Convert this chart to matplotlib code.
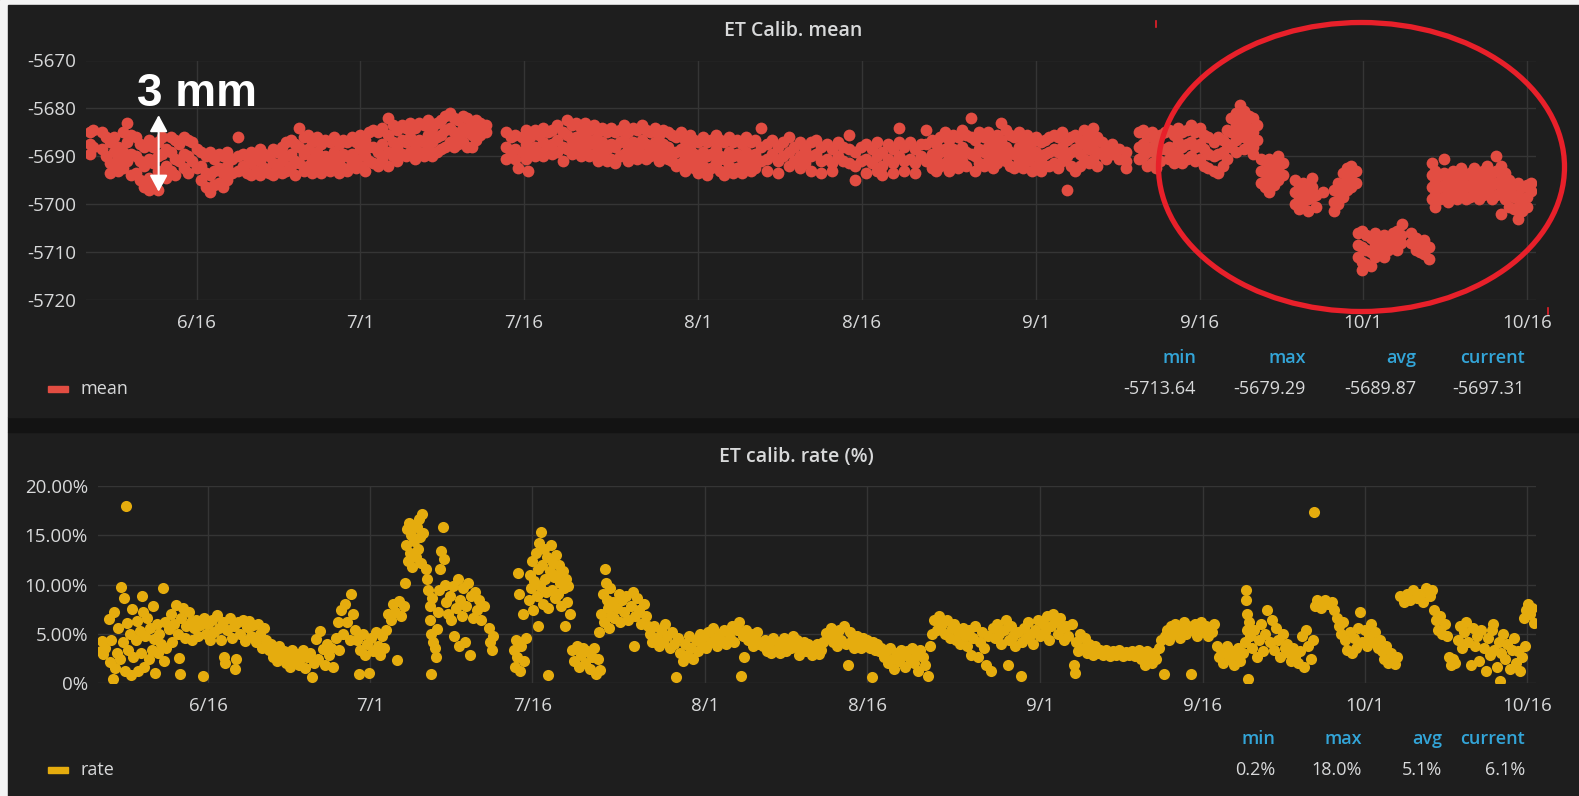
import numpy as np
import matplotlib
matplotlib.use("Agg")
import matplotlib.pyplot as plt
import matplotlib.dates as mdates
from matplotlib.patches import Ellipse, Rectangle
from matplotlib.lines import Line2D

plt.rcParams['font.family'] = ['Open Sans', 'DejaVu Sans']

W, H = 1579, 796
START = np.datetime64('2016-06-06T00:00')

# ET calib. mean: (days since 6/6, samples at that time ...)
mean_rows = [
    (0.2, -5685, -5687.5, -5689.5), (0.5, -5684.5, -5688), (1.3, -5685, -5688.5),
    (1.7, -5686, -5690), (2.0, -5687, -5691.5, -5693.5), (2.4, -5686, -5689, -5692),
    (2.8, -5688, -5690.5, -5693), (3.2, -5685, -5689, -5692.5), (3.6, -5683, -5687, -5691),
    (4.0, -5685.5, -5689.5, -5694), (4.4, -5686, -5690, -5693.5), (4.8, -5687.5, -5691, -5695),
    (5.2, -5688, -5692, -5696.5), (5.6, -5686.5, -5690.5, -5694.5, -5697), (6.0, -5688, -5691.5, -5695.5),
    (6.4, -5687, -5690, -5693, -5697), (6.8, -5686, -5689.5, -5693.5), (7.2, -5688.5, -5692, -5694.5),
    (7.6, -5686, -5689, -5693), (8.0, -5686.5, -5690.5, -5694), (8.4, -5687.5, -5691),
    (8.8, -5686, -5689.5, -5692.5), (9.2, -5686.5, -5690, -5693.5), (9.6, -5687, -5691),
    (10.0, -5688.5, -5692.5), (10.4, -5689, -5692, -5695), (10.8, -5690, -5693.5, -5696.5),
    (11.2, -5689, -5694, -5697.5), (11.6, -5690.5, -5693, -5696), (12.0, -5689.5, -5692.5, -5695.5),
    (12.4, -5690, -5693.5, -5696.5), (12.8, -5689, -5692, -5695), (13.2, -5690.5, -5693.5),
    (13.8, -5686, -5690, -5693), (14.2, -5689.5, -5692), (14.6, -5690, -5693.5),
    (15.0, -5689, -5691.5, -5694), (15.4, -5690, -5693), (15.8, -5688.5, -5691, -5694),
    (16.2, -5689.5, -5692.5), (16.6, -5690, -5693.5), (17.0, -5688.5, -5691.5, -5694),
    (17.4, -5689, -5692.5), (17.8, -5688, -5691, -5693.5), (18.2, -5687, -5690, -5693),
    (18.6, -5686.5, -5689.5, -5692), (19.0, -5687.5, -5691, -5694), (19.4, -5684, -5688, -5691.5),
    (19.8, -5686, -5689.5, -5693), (20.2, -5685.5, -5688.5, -5692), (20.6, -5687, -5690.5, -5693.5),
    (21.0, -5686, -5689, -5692.5), (21.4, -5687.5, -5691, -5693.5), (21.8, -5686.5, -5690, -5692.5),
    (22.2, -5687, -5690.5, -5693), (22.6, -5686, -5689, -5692), (23.0, -5687.5, -5691, -5693.5),
    (23.4, -5686.5, -5689.5, -5692.5), (23.8, -5687, -5690, -5693), (24.2, -5686, -5689.5, -5691.5),
    (24.6, -5687, -5690.5, -5692.5), (25.0, -5685.5, -5688.5, -5692), (25.4, -5686.5, -5690, -5693),
    (25.8, -5685, -5688, -5691), (26.2, -5684.5, -5688, -5691.5), (26.6, -5685, -5689, -5692),
    (27.0, -5684, -5687.5, -5690.5), (27.5, -5682, -5685.5, -5689, -5692), (28.0, -5683.5, -5687, -5690),
    (28.4, -5684.5, -5688, -5691), (28.8, -5683.5, -5686.5, -5689.5), (29.2, -5684, -5687, -5690),
    (29.6, -5683, -5686, -5689), (30.0, -5684, -5687.5, -5690.5), (30.4, -5683, -5686.5, -5689),
    (30.8, -5683.5, -5687, -5690), (31.2, -5682.5, -5685.5, -5688.5), (31.6, -5684, -5687, -5690),
    (32.0, -5683, -5686, -5689), (32.4, -5682.5, -5685.5, -5688.5), (32.8, -5681.5, -5684.5, -5688),
    (33.2, -5681, -5684, -5687), (33.6, -5682, -5685, -5688), (34.0, -5682.5, -5685.5, -5687.5),
    (34.4, -5681.5, -5684, -5687), (34.8, -5682, -5685, -5688), (35.2, -5683, -5685.5, -5688),
    (35.6, -5682.5, -5684.5, -5686.5), (36.0, -5683, -5685.5), (36.5, -5683.5, -5685),
    (38.4, -5685, -5688, -5690.5), (38.8, -5686, -5689.5), (39.2, -5685.5, -5688.5, -5690.5),
    (39.5, -5692.5), (39.8, -5686, -5689), (40.2, -5684.5, -5687.5, -5690.5), (40.4, -5693),
    (40.6, -5686, -5689), (41.0, -5684.5, -5688, -5690), (41.4, -5685.5, -5689),
    (41.8, -5684, -5687, -5690), (42.2, -5685, -5688.5), (42.6, -5684.5, -5687.5, -5689.5),
    (43.0, -5683.5, -5686.5, -5689), (43.6, -5685, -5688, -5691), (44.0, -5682.5, -5685.5, -5688.5),
    (44.4, -5683.5, -5686.5, -5689.5), (44.8, -5683, -5686, -5688.5), (45.2, -5684, -5687, -5690),
    (45.6, -5683, -5685.5, -5688.5), (46.0, -5684.5, -5687.5, -5690), (46.4, -5683.5, -5686.5, -5689.5),
    (46.8, -5685, -5688, -5691), (47.2, -5684, -5687, -5690), (47.6, -5685, -5688.5, -5691),
    (48.0, -5684, -5687.5, -5690.5), (48.4, -5685, -5688, -5691.5), (48.8, -5684.5, -5687, -5690),
    (49.2, -5683.5, -5686.5, -5689.5), (49.6, -5685, -5688, -5691), (50.0, -5684, -5687, -5690),
    (50.4, -5684.5, -5688, -5690.5), (50.8, -5683.5, -5686.5, -5689.5), (51.2, -5684.5, -5687.5, -5690.5),
    (51.6, -5685, -5688, -5690), (52.0, -5684, -5687, -5689.5), (52.4, -5685.5, -5688.5, -5691),
    (52.8, -5684.5, -5687.5, -5690), (53.2, -5685, -5688, -5690.5), (53.6, -5685.5, -5689, -5691),
    (54.0, -5686, -5689, -5692), (54.4, -5685, -5688.5, -5691.5), (54.8, -5686.5, -5690, -5693),
    (55.2, -5685.5, -5688.5, -5691.5), (55.6, -5686.5, -5689.5, -5692.5), (56.0, -5687, -5690.5, -5693.5),
    (56.4, -5686, -5689, -5692), (56.8, -5687, -5690, -5694), (57.2, -5686.5, -5689.5, -5692.5),
    (57.6, -5685.5, -5688.5, -5691.5), (58.0, -5686.5, -5690, -5693), (58.4, -5687, -5690.5, -5694),
    (58.8, -5686, -5689, -5692), (59.2, -5687, -5690, -5693.5), (59.6, -5686.5, -5689.5, -5692.5),
    (60.0, -5687.5, -5690.5, -5693.5), (60.4, -5686, -5689, -5692), (60.8, -5687, -5690.5, -5693),
    (61.2, -5686.5, -5689.5, -5692.5), (61.8, -5684, -5688, -5691), (62.3, -5687.5, -5690.5, -5693),
    (62.8, -5686.5, -5689.5), (63.3, -5688, -5691, -5693.5), (63.8, -5687, -5690),
    (64.3, -5686, -5689, -5692), (64.8, -5688, -5691), (65.3, -5687, -5690, -5692.5),
    (65.8, -5688.5, -5691.5), (66.3, -5687, -5690, -5693), (66.8, -5686.5, -5689.5),
    (67.3, -5688, -5691, -5693.5), (67.8, -5687.5, -5690.5), (68.3, -5688.5, -5691.5, -5693),
    (68.8, -5687, -5690), (69.3, -5688, -5691), (69.8, -5685.5, -5688.5, -5691.5),
    (70.4, -5689, -5692, -5695), (70.9, -5688, -5691), (71.4, -5687.5, -5690.5, -5693.5),
    (71.9, -5688.5, -5691.5), (72.4, -5687, -5690, -5693), (72.9, -5689, -5692, -5694),
    (73.4, -5687.5, -5690.5), (73.9, -5688.5, -5691.5, -5693.5), (74.4, -5684, -5687, -5690),
    (74.9, -5688, -5691, -5693), (75.4, -5687, -5690.5), (75.9, -5688.5, -5691.5, -5693.5),
    (76.4, -5687.5, -5690), (76.9, -5684.5, -5687.5, -5691), (77.4, -5686.5, -5689.5, -5692.5),
    (77.8, -5687.5, -5690.5, -5693), (78.2, -5686, -5689, -5692), (78.6, -5685, -5688.5, -5691.5),
    (79.0, -5686.5, -5690, -5693), (79.4, -5685.5, -5688.5, -5691.5), (79.8, -5686, -5689.5, -5692.5),
    (80.2, -5684.5, -5688, -5691), (80.6, -5685.5, -5689, -5692), (81.0, -5682, -5686, -5689.5),
    (81.4, -5686.5, -5690, -5693), (81.8, -5685, -5688.5, -5691.5), (82.2, -5686, -5689, -5692),
    (82.6, -5685, -5688, -5691), (83.0, -5686.5, -5690, -5692.5), (83.4, -5685.5, -5688.5, -5691.5),
    (83.8, -5683, -5686.5, -5690), (84.2, -5684.5, -5688, -5691), (84.6, -5685.5, -5689, -5692),
    (85.0, -5686, -5689.5, -5692.5), (85.4, -5685, -5688, -5691), (85.8, -5686.5, -5689.5, -5692.5),
    (86.2, -5685.5, -5688.5, -5691), (86.6, -5687, -5690, -5693), (87.0, -5686, -5689, -5692),
    (87.4, -5687, -5690.5, -5693), (87.8, -5686.5, -5689.5, -5692), (88.2, -5686, -5689, -5692),
    (88.6, -5685.5, -5688.5, -5691.5), (89.0, -5686, -5689, -5692.5), (89.4, -5685, -5688, -5691),
    (89.8, -5686.5, -5690, -5697), (90.2, -5686, -5689, -5692), (90.6, -5685.5, -5688.5, -5693),
    (91.0, -5686.5, -5689.5, -5692), (91.4, -5684.5, -5687.5, -5690.5), (91.8, -5685.5, -5688.5, -5691.5),
    (92.2, -5684, -5687.5, -5690.5), (92.6, -5686, -5689, -5692), (93.0, -5687, -5689.5),
    (93.4, -5688, -5690.5), (94.0, -5687.5, -5689.5), (94.6, -5688.5, -5690.5),
    (95.2, -5689, -5691, -5692.5), (96.4, -5685, -5688, -5690.5), (96.8, -5684.5, -5687.5, -5690),
    (97.2, -5686, -5689, -5692), (97.6, -5685, -5688, -5691.5), (98.0, -5686.5, -5689.5, -5692.5),
    (98.4, -5685.5, -5688.5, -5691), (98.8, -5685, -5688.5), (99.2, -5684.5, -5688, -5690.5),
    (99.6, -5685.5, -5689, -5691.5), (100.0, -5684, -5687, -5690), (100.4, -5685, -5688, -5691.5),
    (100.8, -5684.5, -5687.5, -5690.5), (101.2, -5683.5, -5687, -5690), (101.6, -5685, -5688, -5691),
    (102.0, -5684, -5687.5, -5690.5), (102.4, -5685.5, -5688.5, -5692), (102.8, -5686, -5689.5, -5692.5),
    (103.3, -5687, -5690, -5693), (103.7, -5686, -5689.5, -5693.5), (104.1, -5686.5, -5689, -5692),
    (104.5, -5684.5, -5687.5, -5690.5), (104.9, -5682, -5685, -5688), (105.3, -5681, -5683.5, -5686.5, -5689),
    (105.7, -5679.29, -5682, -5685), (106.1, -5680.5, -5683, -5686, -5688.5), (106.5, -5681.5, -5684, -5687),
    (106.9, -5682, -5685, -5688, -5689.5), (107.3, -5683.5, -5686.5), (107.6, -5690.5, -5693, -5695.5),
    (108.0, -5691, -5693.5, -5696.5), (108.4, -5690.5, -5692.5, -5695, -5697.5), (108.8, -5691.5, -5694, -5696),
    (109.2, -5690, -5692.5, -5695), (109.6, -5691.5, -5694), (110.7, -5695, -5697.5, -5700),
    (111.1, -5696, -5698.5, -5701), (111.5, -5695.5, -5697.5, -5699.5), (111.9, -5697, -5699, -5701.5),
    (112.3, -5694.5, -5696.5, -5698.5), (112.7, -5698, -5700.5), (113.3, -5697.5),
    (114.3, -5697, -5699.5, -5701.5), (114.7, -5695.5, -5697.5, -5700), (115.1, -5693.5, -5696, -5698.5),
    (115.5, -5692.5, -5694.5, -5697), (115.9, -5692, -5694, -5696.5), (116.3, -5693, -5695.5),
    (116.5, -5706, -5708.5, -5711), (116.9, -5705.5, -5709, -5712, -5713.64), (117.3, -5706.5, -5709.5, -5712.5),
    (117.7, -5707, -5710, -5713), (118.1, -5706, -5708.5, -5711), (118.5, -5707.5, -5710),
    (118.9, -5706.5, -5709, -5711), (119.3, -5707, -5709.5), (119.7, -5706, -5708.5),
    (120.1, -5705.5, -5707.5, -5709.5), (120.5, -5706.5, -5708), (120.6, -5704.2),
    (121.4, -5706, -5708), (121.8, -5707, -5709.5), (122.2, -5708, -5710),
    (122.6, -5707.5, -5710.5), (123.0, -5709, -5711.5), (123.3, -5691.5, -5694, -5696.5, -5699),
    (123.6, -5693, -5695.5, -5698, -5700.5), (124.0, -5694, -5696.5, -5699), (124.4, -5690.5, -5693.5, -5696, -5698.5),
    (124.8, -5694.5, -5697, -5699.5), (125.2, -5693, -5695.5, -5698), (125.6, -5694, -5696.5, -5699),
    (126.0, -5692.5, -5695, -5697.5), (126.4, -5694, -5696.5, -5699), (126.8, -5693.5, -5696, -5698.5),
    (127.2, -5692.5, -5695, -5697.5), (127.6, -5694, -5696.5, -5699), (128.0, -5693, -5695.5, -5698),
    (128.4, -5692, -5694.5, -5697), (128.8, -5693.5, -5696, -5699), (129.2, -5690, -5693, -5695.5, -5698),
    (129.6, -5692, -5695, -5697.5, -5702), (130.0, -5693.5, -5696, -5699), (130.4, -5695, -5697.5, -5700.5),
    (130.8, -5696, -5698.5, -5701), (131.2, -5695.5, -5698, -5700.5, -5703), (131.6, -5696.5, -5699, -5701.5),
    (132.0, -5696, -5698.5, -5700.5), (132.4, -5695.5, -5697.31),
]

# ET calib. rate in percent: (days since 6/6, value)
rate_rows = [
    (0.1, 3.2), (0.2, 4.3), (0.3, 2.9), (0.45, 3.6), (0.8, 6.5), (0.9, 2.1), (1.0, 4.4), (1.2, 0.4),
    (1.3, 7.2), (1.4, 1.5), (1.6, 3.0), (1.7, 5.6), (1.9, 2.4), (2.0, 9.7), (2.1, 4.2), (2.2, 8.6),
    (2.3, 1.2), (2.4, 18.0), (2.5, 6.1), (2.6, 3.3), (2.8, 5.0), (2.9, 0.8), (3.0, 7.5), (3.1, 2.6),
    (3.3, 4.4), (3.4, 6.3), (3.5, 1.2), (3.7, 5.3), (3.8, 3.0), (3.9, 8.8), (4.0, 7.2), (4.1, 1.6),
    (4.2, 4.8), (4.4, 6.6), (4.5, 2.4), (4.6, 5.6), (4.8, 3.4), (4.9, 7.8), (5.0, 4.5), (5.1, 1.0),
    (5.3, 6.0), (5.4, 3.0), (5.5, 5.0), (5.7, 4.0), (5.8, 9.6), (5.9, 2.2), (6.0, 6.2), (6.1, 3.6),
    (6.4, 5.5), (6.6, 7.0), (6.7, 4.2), (6.9, 6.0), (7.0, 7.9), (7.2, 5.0), (7.3, 2.5), (7.4, 0.9),
    (7.5, 6.6), (7.7, 7.6), (7.9, 4.6), (8.0, 5.8), (8.2, 7.2), (8.4, 6.2), (8.5, 4.4), (8.7, 5.6),
    (8.9, 6.4), (9.1, 4.8), (9.3, 5.9), (9.5, 0.7), (9.6, 6.6), (9.8, 5.0), (10.0, 6.0), (10.2, 4.4),
    (10.4, 6.4), (10.6, 5.2), (10.8, 6.9), (11.0, 5.6), (11.2, 4.4), (11.4, 6.2), (11.5, 2.6), (11.6, 2.0),
    (11.8, 5.4), (12.0, 6.6), (12.2, 4.6), (12.4, 5.8), (12.5, 1.4), (12.6, 2.4), (12.8, 6.2), (13.0, 5.0),
    (13.2, 6.4), (13.4, 4.3), (13.6, 5.7), (13.8, 6.3), (14.0, 4.8), (14.2, 5.9), (14.4, 4.2), (14.6, 6.0),
    (14.8, 5.0), (15.0, 3.6), (15.2, 5.6), (15.4, 4.4), (15.6, 3.4), (15.8, 4.0), (16.0, 2.6), (16.2, 3.3),
    (16.4, 2.2), (16.6, 3.8), (16.8, 2.8), (17.0, 3.2), (17.2, 2.0), (17.4, 2.7), (17.6, 1.6), (17.8, 3.4),
    (18.0, 2.2), (18.2, 2.9), (18.4, 1.8), (18.6, 2.5), (18.8, 3.3), (19.0, 1.5), (19.2, 2.6), (19.4, 3.0),
    (19.6, 0.6), (19.8, 2.0), (20.0, 4.5), (20.2, 2.4), (20.4, 5.3), (20.6, 3.5), (20.8, 1.8), (21.0, 4.0),
    (21.2, 2.8), (21.4, 3.6), (21.6, 1.6), (21.8, 4.6), (22.0, 6.2), (22.1, 3.4), (22.3, 7.4), (22.5, 5.0),
    (22.7, 8.0), (22.9, 6.2), (23.1, 4.4), (23.2, 9.0), (23.4, 7.0), (23.6, 5.4), (23.8, 4.4), (24.0, 0.9),
    (24.1, 3.4), (24.3, 5.0), (24.5, 2.8), (24.7, 4.0), (24.9, 1.0), (25.1, 4.6), (25.3, 3.2), (25.5, 5.2),
    (25.7, 3.8), (25.9, 2.8), (26.1, 4.8), (26.3, 3.6), (26.5, 5.4), (26.7, 7.0), (26.9, 6.4), (27.1, 8.0),
    (27.3, 7.2), (27.5, 2.3), (27.7, 8.3), (27.9, 6.8), (28.1, 7.8), (28.2, 10.2), (28.3, 14.0), (28.4, 15.6),
    (28.5, 12.4), (28.6, 16.2), (28.7, 13.2), (28.8, 15.0), (28.9, 11.8), (29.0, 16.0), (29.1, 14.4), (29.2, 12.8),
    (29.3, 15.8), (29.4, 13.6), (29.5, 16.6), (29.6, 14.8), (29.7, 12.2), (29.8, 17.2), (29.9, 15.2), (30.2, 11.6),
    (30.3, 10.6), (30.4, 9.4), (30.5, 7.8), (30.5, 6.4), (30.6, 5.0), (30.6, 0.9), (30.7, 8.6), (30.8, 4.2),
    (31.0, 3.6), (31.1, 2.6), (31.2, 5.5), (31.3, 7.2), (31.4, 9.4), (31.5, 11.6), (31.6, 13.4), (31.7, 15.8),
    (31.8, 12.6), (31.9, 10.0), (32.0, 8.2), (32.2, 7.0), (32.4, 8.8), (32.5, 6.4), (32.7, 9.8), (32.8, 4.8),
    (32.9, 7.6), (33.1, 10.6), (33.2, 3.8), (33.3, 8.4), (33.5, 6.8), (33.6, 9.6), (33.8, 4.2), (33.9, 7.8),
    (34.1, 10.2), (34.2, 2.8), (34.3, 8.8), (34.5, 6.6), (34.7, 9.2), (34.9, 7.4), (35.1, 8.4), (35.3, 6.4),
    (35.5, 7.8), (36.0, 5.6), (36.1, 4.2), (36.3, 3.4), (36.4, 4.8), (38.3, 3.4), (38.4, 1.6), (38.5, 4.4),
    (38.6, 2.6), (38.7, 11.2), (38.8, 9.0), (38.9, 1.2), (39.0, 3.8), (39.1, 7.0), (39.2, 2.2), (39.4, 4.6),
    (39.7, 8.4), (39.8, 11.0), (39.9, 9.6), (40.0, 12.4), (40.1, 7.4), (40.2, 10.4), (40.3, 13.2), (40.4, 8.8),
    (40.5, 11.6), (40.5, 5.8), (40.6, 14.2), (40.7, 9.8), (40.8, 15.3), (40.9, 12.0), (41.0, 8.0), (41.1, 13.6),
    (41.2, 10.6), (41.3, 9.2), (41.4, 12.8), (41.5, 0.8), (41.5, 7.6), (41.6, 11.4), (41.7, 14.0), (41.8, 9.4),
    (41.9, 12.2), (42.0, 10.8), (42.1, 8.6), (42.2, 13.0), (42.3, 11.0), (42.4, 9.0), (42.5, 12.0), (42.6, 10.2),
    (42.7, 7.8), (42.8, 11.4), (42.9, 9.6), (43.0, 5.8), (43.1, 10.6), (43.2, 8.2), (43.3, 9.8), (43.5, 7.0),
    (43.7, 3.4), (43.9, 2.2), (44.1, 3.8), (44.3, 1.6), (44.5, 2.8), (44.7, 3.6), (44.9, 2.0), (45.1, 3.2),
    (45.3, 1.4), (45.5, 2.6), (45.7, 3.6), (45.9, 0.9), (46.1, 2.4), (46.3, 1.3), (46.2, 5.2), (46.4, 7.0),
    (46.5, 9.0), (46.6, 6.2), (46.7, 11.6), (46.8, 10.2), (46.9, 8.4), (47.0, 7.6), (47.1, 5.6), (47.2, 9.6),
    (47.3, 6.8), (47.5, 8.2), (47.6, 6.6), (47.8, 7.6), (48.0, 9.0), (48.1, 6.2), (48.3, 8.4), (48.5, 7.2),
    (48.7, 8.8), (48.9, 6.4), (49.1, 7.8), (49.3, 9.2), (49.4, 3.8), (49.5, 6.8), (49.7, 8.6), (49.9, 7.4),
    (50.1, 6.0), (50.3, 8.0), (50.5, 6.8), (50.7, 5.8), (50.9, 5.0), (51.1, 4.2), (51.3, 5.8), (51.5, 4.6),
    (51.7, 3.8), (51.9, 5.4), (52.1, 4.2), (52.3, 6.0), (52.5, 4.8), (52.7, 3.6), (52.9, 5.2), (53.1, 4.0),
    (53.3, 0.6), (53.5, 4.6), (53.7, 3.0), (53.9, 2.2), (54.1, 4.0), (54.3, 2.8), (54.5, 4.8), (54.7, 3.6),
    (54.9, 2.4), (55.1, 4.4), (55.3, 3.2), (55.5, 5.0), (55.7, 4.0), (55.9, 4.8), (56.1, 3.6), (56.3, 5.2),
    (56.5, 4.2), (56.7, 5.6), (56.9, 4.6), (57.1, 3.8), (57.3, 5.0), (57.5, 4.4), (57.7, 5.4), (57.9, 4.0),
    (58.1, 5.2), (58.3, 4.6), (58.5, 5.8), (58.7, 4.2), (58.9, 5.4), (59.1, 6.2), (59.3, 0.75), (59.5, 4.8),
    (59.6, 2.6), (59.8, 5.4), (60.0, 4.4), (60.2, 5.0), (60.4, 3.8), (60.6, 4.6), (60.8, 5.2), (61.0, 4.0),
    (61.3, 3.8), (61.5, 4.4), (61.7, 3.2), (61.9, 4.0), (62.1, 3.0), (62.3, 4.6), (62.5, 3.4), (62.7, 4.2),
    (62.9, 3.0), (63.1, 3.8), (63.3, 4.6), (63.5, 3.2), (63.7, 4.2), (63.9, 3.6), (64.1, 4.8), (64.3, 3.8),
    (64.5, 4.4), (64.7, 2.8), (64.9, 3.6), (65.1, 4.2), (65.3, 3.2), (65.5, 4.0), (65.7, 3.4), (65.9, 2.8),
    (66.1, 3.6), (66.3, 4.0), (66.5, 2.9), (66.7, 3.4), (66.9, 4.2), (67.2, 5.1), (67.4, 4.6), (67.6, 5.6),
    (67.8, 4.2), (68.0, 5.0), (68.2, 3.8), (68.4, 5.4), (68.6, 4.4), (68.8, 5.8), (69.0, 4.0), (69.2, 1.8),
    (69.4, 5.2), (69.6, 4.4), (69.8, 3.6), (70.0, 4.8), (70.2, 4.2), (70.4, 3.6), (70.6, 4.6), (70.8, 3.8),
    (71.0, 4.4), (71.2, 3.6), (71.4, 0.6), (71.5, 4.2), (71.7, 3.4), (71.9, 4.0), (72.1, 3.2), (72.3, 3.6),
    (72.5, 2.6), (72.7, 3.2), (72.9, 2.0), (73.1, 3.6), (73.3, 2.4), (73.5, 1.4), (73.7, 3.0), (73.9, 2.2),
    (74.1, 3.4), (74.3, 2.8), (74.5, 1.6), (74.7, 3.2), (74.9, 2.4), (75.1, 3.6), (75.3, 2.0), (75.5, 2.8),
    (75.7, 1.2), (75.9, 3.4), (76.1, 2.6), (76.3, 1.8), (76.6, 0.75), (76.8, 3.8), (77.0, 5.0), (77.2, 6.4),
    (77.4, 5.4), (77.6, 6.8), (77.8, 5.8), (78.0, 6.2), (78.2, 5.0), (78.4, 6.4), (78.6, 4.6), (78.8, 5.6),
    (79.0, 6.0), (79.2, 4.4), (79.4, 5.2), (79.6, 4.0), (79.8, 5.6), (80.0, 4.8), (80.2, 3.8), (80.4, 5.4),
    (80.6, 2.8), (80.8, 4.6), (81.0, 5.8), (81.2, 2.6), (81.4, 4.2), (81.6, 5.2), (81.8, 3.6), (82.0, 1.8),
    (82.2, 4.8), (82.4, 1.2), (82.6, 5.6), (82.8, 4.6), (83.0, 6.0), (83.2, 5.0), (83.4, 4.0), (83.6, 5.4),
    (83.8, 6.4), (84.0, 1.8), (84.1, 4.4), (84.3, 5.8), (84.5, 4.8), (84.7, 3.8), (84.9, 5.2), (85.2, 0.75),
    (85.3, 4.2), (85.5, 5.6), (85.7, 4.6), (85.9, 6.2), (86.1, 5.0), (86.3, 4.0), (86.5, 5.4), (86.8, 6.4),
    (87.0, 4.8), (87.2, 6.0), (87.4, 5.2), (87.6, 6.8), (87.8, 4.4), (88.0, 5.8), (88.2, 7.0), (88.4, 6.2),
    (88.6, 5.0), (88.8, 6.6), (89.0, 5.6), (89.2, 4.4), (89.4, 5.8), (89.6, 4.8), (89.9, 6.0), (90.1, 1.8),
    (90.2, 1.0), (90.3, 4.2), (90.5, 3.2), (90.7, 5.0), (90.9, 3.6), (91.1, 4.6), (91.3, 3.0), (91.5, 4.0),
    (91.7, 3.4), (91.9, 2.8), (92.1, 3.8), (92.3, 3.0), (92.5, 3.4), (92.8, 2.8), (93.1, 3.3), (93.4, 2.7),
    (93.7, 3.2), (94.0, 2.8), (94.3, 3.3), (94.6, 2.7), (94.9, 3.1), (95.2, 2.8), (95.5, 3.2), (95.8, 2.7),
    (96.1, 3.4), (96.3, 2.4), (96.5, 3.0), (96.7, 1.8), (96.9, 3.2), (97.1, 2.6), (97.3, 2.0), (97.5, 3.0),
    (97.7, 2.4), (98.0, 3.6), (98.2, 4.4), (98.4, 0.9), (98.5, 4.8), (98.7, 5.4), (98.9, 4.4), (99.1, 5.8),
    (99.3, 5.0), (99.5, 6.0), (99.7, 5.2), (99.9, 4.6), (100.1, 5.6), (100.3, 6.2), (100.5, 5.0), (100.7, 5.8),
    (100.9, 0.9), (101.1, 5.4), (101.3, 6.0), (101.5, 4.8), (101.7, 5.6), (101.9, 6.2), (102.1, 5.2), (102.3, 5.8),
    (102.5, 4.8), (102.7, 5.6), (102.9, 5.2), (103.1, 6.0), (103.3, 3.8), (103.5, 2.6), (103.7, 3.4), (103.9, 2.0),
    (104.1, 3.0), (104.3, 3.8), (104.5, 2.4), (104.7, 3.2), (104.9, 1.8), (105.1, 2.8), (105.3, 3.6), (105.5, 2.2),
    (105.7, 3.0), (105.9, 4.2), (106.0, 9.4), (106.05, 8.4), (106.1, 7.0), (106.15, 5.4), (106.2, 0.4), (106.3, 6.2),
    (106.4, 4.8), (106.6, 3.6), (106.8, 5.4), (107.0, 2.6), (107.2, 4.4), (107.4, 6.0), (107.6, 3.2), (107.8, 5.0),
    (108.0, 7.4), (108.2, 4.2), (108.4, 6.4), (108.6, 3.4), (108.8, 5.6), (109.0, 4.4), (109.2, 2.6), (109.4, 5.0),
    (109.6, 3.6), (109.8, 4.0), (110.0, 3.0), (110.2, 2.2), (110.4, 3.6), (110.6, 2.6), (110.8, 2.0), (111.0, 3.2),
    (111.2, 4.8), (111.4, 1.6), (111.6, 5.4), (111.8, 3.8), (112.0, 2.4), (112.2, 4.4), (112.3, 17.4), (112.4, 7.8),
    (112.6, 8.4), (112.8, 8.2), (113.0, 7.6), (113.3, 8.4), (113.6, 8.0), (114.0, 8.2), (114.2, 7.4), (114.4, 6.6),
    (114.6, 5.8), (114.8, 5.0), (115.0, 6.2), (115.2, 4.4), (115.4, 3.4), (115.6, 5.2), (115.8, 3.0), (116.0, 4.6),
    (116.2, 3.6), (116.4, 5.6), (116.6, 7.2), (116.8, 4.2), (117.0, 5.4), (117.2, 3.8), (117.4, 4.8), (117.6, 6.0),
    (117.8, 4.2), (118.0, 5.2), (118.2, 3.6), (118.4, 4.4), (118.6, 3.2), (118.8, 2.4), (119.0, 3.8), (119.2, 2.0),
    (119.4, 3.0), (119.6, 2.2), (119.8, 1.9), (120.0, 2.6), (120.3, 8.8), (120.6, 8.2), (120.9, 9.0), (121.2, 8.4),
    (121.5, 9.4), (121.8, 8.6), (122.1, 9.0), (122.4, 8.2), (122.7, 9.6), (123.0, 8.8), (123.2, 9.4), (123.4, 7.4),
    (123.6, 6.4), (123.8, 5.4), (124.0, 6.8), (124.2, 5.0), (124.4, 6.0), (124.6, 4.8), (124.8, 2.6), (125.0, 1.8),
    (125.2, 2.4), (125.4, 2.0), (125.6, 4.4), (125.8, 5.8), (126.0, 3.6), (126.2, 5.2), (126.4, 6.2), (126.6, 4.2),
    (126.8, 1.8), (127.0, 5.6), (127.2, 3.8), (127.4, 4.8), (127.6, 2.2), (127.8, 5.4), (128.0, 3.6), (128.2, 1.2),
    (128.4, 4.6), (128.6, 2.8), (128.8, 5.4), (128.9, 6.0), (129.0, 3.4), (129.2, 1.6), (129.4, 4.2), (129.5, 0.2),
    (129.6, 3.0), (129.8, 5.0), (130.0, 2.4), (130.2, 4.0), (130.4, 1.4), (130.6, 3.4), (130.8, 4.6), (131.0, 2.0),
    (131.2, 3.2), (131.4, 1.2), (131.6, 2.6), (131.8, 3.8), (131.7, 6.6), (131.9, 7.4), (132.1, 8.0), (132.3, 7.0),
    (132.5, 7.6), (132.7, 6.1),
]

tick_dates = ['2016-06-16', '2016-07-01', '2016-07-16', '2016-08-01', '2016-08-16',
              '2016-09-01', '2016-09-16', '2016-10-01', '2016-10-16']
mean_yticks = [-5720, -5710, -5700, -5690, -5680, -5670]
rate_yticks = [0, 5, 10, 15, 20]
stat_names = ['min', 'max', 'avg', 'current']
mean_stats = ['-5713.64', '-5679.29', '-5689.87', '-5697.31']
rate_stats = ['0.2%', '18.0%', '5.1%', '6.1%']

RED = '#e24d42'
YELLOW = '#e5ac0e'
PANEL = '#1e1e1e'
PAGE = '#131313'
GRID = '#353535'
TEXT = '#d8d9da'
BLUE = '#33a5d8'


def to_num(days):
    secs = np.round(np.asarray(days, dtype=float) * 86400).astype('int64')
    return mdates.date2num(START + secs.astype('timedelta64[s]'))


def box(left, top, right, bottom):
    # pixel rectangle -> figure fraction [x0, y0, w, h]
    return [left / W, 1 - bottom / H, (right - left) / W, (bottom - top) / H]


def fx(x):
    return x / W


def fy(y):
    return 1 - y / H


mean_t = [r[0] for r in mean_rows for _ in r[1:]]
mean_v = [v for r in mean_rows for v in r[1:]]
rate_t = [r[0] for r in rate_rows]
rate_v = [r[1] for r in rate_rows]

fig = plt.figure(figsize=(W / 100, H / 100), dpi=100)
fig.patch.set_facecolor(PAGE)

# panel backgrounds and the light border on the left/top
fig.add_artist(Rectangle((0, 0), 1, 1, transform=fig.transFigure, color='#f4f4f4', zorder=-10))
fig.add_artist(Rectangle((fx(8), fy(796)), 1, fy(432) - fy(796), transform=fig.transFigure,
                         color=PANEL, zorder=-9))
fig.add_artist(Rectangle((fx(8), fy(432)), 1, fy(417) - fy(432), transform=fig.transFigure,
                         color=PAGE, zorder=-9))
fig.add_artist(Rectangle((fx(8), fy(417)), 1, fy(5) - fy(417), transform=fig.transFigure,
                         color=PANEL, zorder=-9))

xlim = to_num([-0.2, 132.85])
tick_pos = mdates.date2num(np.array(tick_dates, dtype='datetime64[s]'))


def style(ax):
    ax.set_facecolor('none')
    for s in ax.spines.values():
        s.set_visible(False)
    ax.set_axisbelow(True)
    ax.grid(True, color=GRID, lw=1)
    ax.set_xlim(xlim[0], xlim[1])
    ax.set_xticks(tick_pos)
    ax.xaxis.set_major_formatter(mdates.DateFormatter('%-m/%-d'))
    ax.tick_params(axis='both', length=0, colors=TEXT, labelsize=13.5)
    ax.tick_params(axis='x', pad=10)
    ax.tick_params(axis='y', pad=7)


ax1 = fig.add_axes(box(85.6, 60.5, 1536, 300))
style(ax1)
ax1.scatter(to_num(mean_t), mean_v, s=72, color=RED, linewidths=0, zorder=3)
ax1.set_ylim(-5720, -5670)
ax1.set_yticks(mean_yticks)
ax1.set_yticklabels([str(v) for v in mean_yticks])

ax2 = fig.add_axes(box(97.7, 486, 1536, 683))
style(ax2)
ax2.scatter(to_num(rate_t), rate_v, s=64, color=YELLOW, linewidths=0, zorder=3)
ax2.set_ylim(0, 20)
ax2.set_yticks(rate_yticks)
ax2.set_yticklabels(['0%' if v == 0 else f'{v:.2f}%' for v in rate_yticks])

# panel titles
fig.text(fx(793), fy(31), 'ET Calib. mean', ha='center', va='center', color=TEXT,
         fontsize=14, fontweight='semibold')
fig.text(fx(796), fy(457), 'ET calib. rate (%)', ha='center', va='center', color=TEXT,
         fontsize=14, fontweight='semibold')


def legend(name, color, y_head, y_val, rights, values):
    fig.add_artist(Rectangle((fx(48), fy(y_val + 3)), fx(20), fy(y_val - 3) - fy(y_val + 3),
                             transform=fig.transFigure, color=color))
    fig.text(fx(80), fy(y_val), name, ha='left', va='center', color=TEXT, fontsize=13)
    for r, lab, val in zip(rights, stat_names, values):
        fig.text(fx(r), fy(y_head), lab, ha='right', va='center', color=BLUE,
                 fontsize=13, fontweight='semibold')
        fig.text(fx(r), fy(y_val), val, ha='right', va='center', color=TEXT, fontsize=13)


legend('mean', RED, 358, 389, [1196, 1306, 1416, 1525], mean_stats)
legend('rate', YELLOW, 739, 770, [1275, 1362, 1442, 1525], rate_stats)

# highlight of the last month and the band width marker
fig.add_artist(Ellipse((fx(1361.5), fy(167)), 406 / W, 289 / H, transform=fig.transFigure,
                       fill=False, edgecolor='#e8202a', lw=3.8, zorder=20))
fig.add_artist(Line2D([fx(1156), fx(1156)], [fy(21), fy(27)], transform=fig.transFigure,
                      color='#e8202a', lw=1.2))
fig.add_artist(Line2D([fx(1548), fx(1548)], [fy(308), fy(314)], transform=fig.transFigure,
                      color='#e8202a', lw=1.2))
arrow_x = to_num([6.5])[0]
ax1.annotate('', xy=(arrow_x, -5697.4), xytext=(arrow_x, -5681.4),
             arrowprops=dict(arrowstyle='<|-|>,head_length=0.5,head_width=0.27',
                             color='white', lw=1.5, shrinkA=0, shrinkB=0, mutation_scale=20),
             zorder=25)
fig.text(fx(137), fy(106), '3 mm', ha='left', va='baseline', color='white',
         fontsize=33, fontweight='bold', family=['Liberation Sans', 'DejaVu Sans'], zorder=25)

fig.savefig('out.png', dpi=100, facecolor=fig.get_facecolor())
